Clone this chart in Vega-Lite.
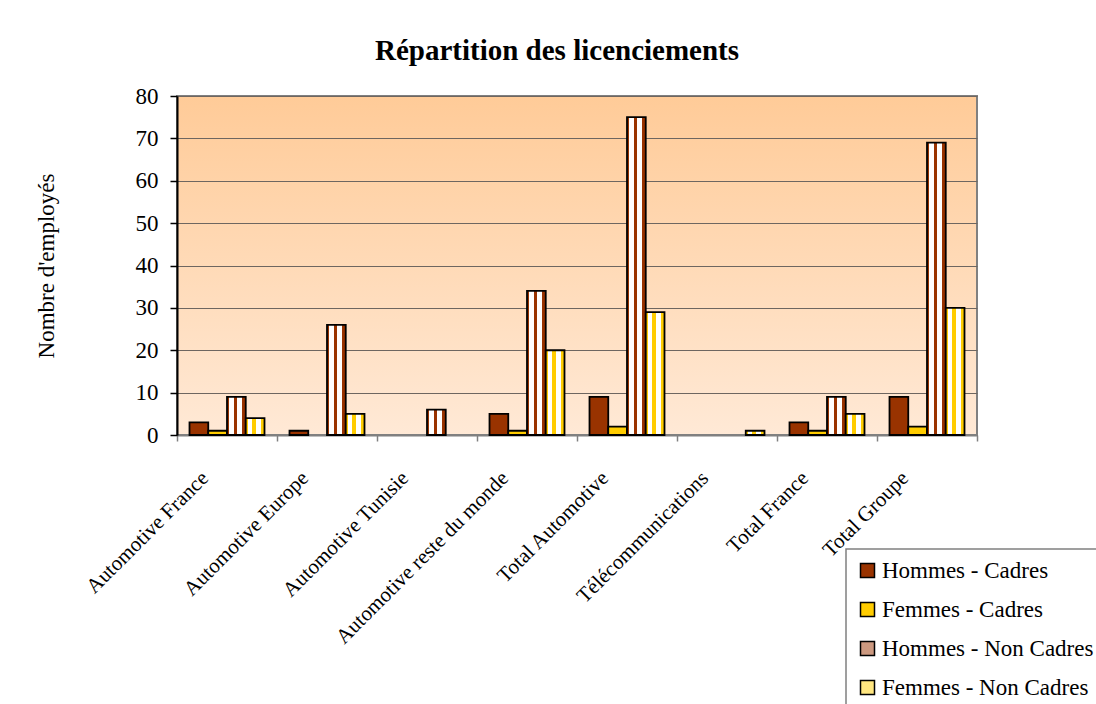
{
  "$schema": "https://vega.github.io/schema/vega-lite/v6.json",
  "width": 800,
  "height": 339,
  "autosize": {"type": "none"},
  "padding": {"left": 177, "top": 96, "right": 119, "bottom": 269},
  "background": "white",
  "title": {
    "text": "Répartition des licenciements",
    "font": "Liberation Serif",
    "fontSize": 29,
    "fontWeight": "bold",
    "color": "black",
    "anchor": "middle",
    "dx": -20,
    "dy": 38,
    "offset": 34,
    "baseline": "alphabetic"
  },
  "config": {
    "font": "Liberation Serif",
    "view": {
      "stroke": "#808080",
      "strokeWidth": 2,
      "fill": {
        "gradient": "linear",
        "x1": 0, "y1": 0, "x2": 0, "y2": 1,
        "stops": [
          {"offset": 0, "color": "#ffcb98"},
          {"offset": 1, "color": "#ffe9d6"}
        ]
      }
    }
  },
  "data": {
    "values": [
      {"cat": "Automotive France", "serie": "Hommes - Cadres", "v": 3},
      {"cat": "Automotive France", "serie": "Femmes - Cadres", "v": 1},
      {"cat": "Automotive France", "serie": "Hommes - Non Cadres", "v": 9},
      {"cat": "Automotive France", "serie": "Femmes - Non Cadres", "v": 4},
      {"cat": "Automotive Europe", "serie": "Hommes - Cadres", "v": 1},
      {"cat": "Automotive Europe", "serie": "Hommes - Non Cadres", "v": 26},
      {"cat": "Automotive Europe", "serie": "Femmes - Non Cadres", "v": 5},
      {"cat": "Automotive Tunisie", "serie": "Hommes - Non Cadres", "v": 6},
      {"cat": "Automotive reste du monde", "serie": "Hommes - Cadres", "v": 5},
      {"cat": "Automotive reste du monde", "serie": "Femmes - Cadres", "v": 1},
      {"cat": "Automotive reste du monde", "serie": "Hommes - Non Cadres", "v": 34},
      {"cat": "Automotive reste du monde", "serie": "Femmes - Non Cadres", "v": 20},
      {"cat": "Total Automotive", "serie": "Hommes - Cadres", "v": 9},
      {"cat": "Total Automotive", "serie": "Femmes - Cadres", "v": 2},
      {"cat": "Total Automotive", "serie": "Hommes - Non Cadres", "v": 75},
      {"cat": "Total Automotive", "serie": "Femmes - Non Cadres", "v": 29},
      {"cat": "Télécommunications", "serie": "Femmes - Non Cadres", "v": 1},
      {"cat": "Total France", "serie": "Hommes - Cadres", "v": 3},
      {"cat": "Total France", "serie": "Femmes - Cadres", "v": 1},
      {"cat": "Total France", "serie": "Hommes - Non Cadres", "v": 9},
      {"cat": "Total France", "serie": "Femmes - Non Cadres", "v": 5},
      {"cat": "Total Groupe", "serie": "Hommes - Cadres", "v": 9},
      {"cat": "Total Groupe", "serie": "Femmes - Cadres", "v": 2},
      {"cat": "Total Groupe", "serie": "Hommes - Non Cadres", "v": 69},
      {"cat": "Total Groupe", "serie": "Femmes - Non Cadres", "v": 30}
    ]
  },
  "mark": {"type": "bar", "stroke": "black", "strokeWidth": 1.8},
  "encoding": {
    "x": {
      "field": "cat",
      "type": "nominal",
      "sort": ["Automotive France", "Automotive Europe", "Automotive Tunisie", "Automotive reste du monde", "Total Automotive", "Télécommunications", "Total France", "Total Groupe"],
      "scale": {"paddingInner": 0, "paddingOuter": 0},
      "axis": {
        "title": null,
        "grid": false,
        "tickBand": "extent",
        "domainColor": "#808080",
        "domainWidth": 2,
        "tickColor": "#808080",
        "tickWidth": 1.5,
        "tickSize": 6,
        "labelAngle": -45,
        "labelAlign": "right",
        "labelBaseline": "top",
        "labelFont": "Liberation Serif",
        "labelFontSize": 21,
        "labelColor": "black",
        "labelOffset": -30,
        "labelPadding": 26,
        "labelLimit": 400
      }
    },
    "xOffset": {
      "field": "serie",
      "type": "nominal",
      "sort": ["Hommes - Cadres", "Femmes - Cadres", "Hommes - Non Cadres", "Femmes - Non Cadres"],
      "scale": {
        "domain": ["Hommes - Cadres", "Femmes - Cadres", "Hommes - Non Cadres", "Femmes - Non Cadres"],
        "paddingInner": 0,
        "paddingOuter": 0.667
      }
    },
    "y": {
      "field": "v",
      "type": "quantitative",
      "scale": {"domain": [0, 80], "nice": false},
      "axis": {
        "title": "Nombre d'employés",
        "titleFont": "Liberation Serif",
        "titleFontSize": 23,
        "titleFontWeight": "normal",
        "titleColor": "black",
        "titlePadding": 77,
        "values": [0, 10, 20, 30, 40, 50, 60, 70, 80],
        "grid": true,
        "gridColor": "#6e6660",
        "gridWidth": 1,
        "domainColor": "black",
        "domainWidth": 2,
        "tickColor": "black",
        "tickWidth": 1.5,
        "tickSize": 7,
        "labelFont": "Liberation Serif",
        "labelFontSize": 23,
        "labelColor": "black",
        "labelPadding": 12
      }
    },
    "fill": {
      "condition": [
        {
          "test": "datum.serie === 'Hommes - Non Cadres'",
          "value": {
            "gradient": "linear",
            "x1": 0, "y1": 0, "x2": 1, "y2": 0,
            "stops": [
              {"offset": 0, "color": "#993300"},
              {"offset": 0.12, "color": "#993300"},
              {"offset": 0.12, "color": "#ffffff"},
              {"offset": 0.36, "color": "#ffffff"},
              {"offset": 0.36, "color": "#993300"},
              {"offset": 0.55, "color": "#993300"},
              {"offset": 0.55, "color": "#ffffff"},
              {"offset": 0.79, "color": "#ffffff"},
              {"offset": 0.79, "color": "#993300"},
              {"offset": 0.98, "color": "#993300"},
              {"offset": 0.98, "color": "#ffffff"},
              {"offset": 1, "color": "#ffffff"}
            ]
          }
        },
        {
          "test": "datum.serie === 'Femmes - Non Cadres'",
          "value": {
            "gradient": "linear",
            "x1": 0, "y1": 0, "x2": 1, "y2": 0,
            "stops": [
              {"offset": 0, "color": "#ffcc00"},
              {"offset": 0.12, "color": "#ffcc00"},
              {"offset": 0.12, "color": "#ffffff"},
              {"offset": 0.36, "color": "#ffffff"},
              {"offset": 0.36, "color": "#ffcc00"},
              {"offset": 0.55, "color": "#ffcc00"},
              {"offset": 0.55, "color": "#ffffff"},
              {"offset": 0.79, "color": "#ffffff"},
              {"offset": 0.79, "color": "#ffcc00"},
              {"offset": 0.98, "color": "#ffcc00"},
              {"offset": 0.98, "color": "#ffffff"},
              {"offset": 1, "color": "#ffffff"}
            ]
          }
        }
      ],
      "field": "serie",
      "type": "nominal",
      "scale": {
        "domain": ["Hommes - Cadres", "Femmes - Cadres", "Hommes - Non Cadres", "Femmes - Non Cadres"],
        "range": ["#993300", "#ffcc00", "#cc9980", "#ffe680"]
      },
      "legend": {
        "title": null,
        "orient": "none",
        "legendX": 669,
        "legendY": 453,
        "direction": "vertical",
        "fillColor": "white",
        "strokeColor": "#808080",
        "padding": 10,
        "cornerRadius": 0,
        "symbolType": "square",
        "symbolSize": 196,
        "symbolStrokeColor": "black",
        "symbolStrokeWidth": 1.5,
        "symbolOpacity": 1,
        "labelFont": "Liberation Serif",
        "labelFontSize": 23,
        "labelColor": "black",
        "labelLimit": 400,
        "labelOffset": 3,
        "rowPadding": 15,
        "encode": {
          "legend": {"update": {"strokeWidth": {"value": 1.5}}}
        }
      }
    }
  }
}
